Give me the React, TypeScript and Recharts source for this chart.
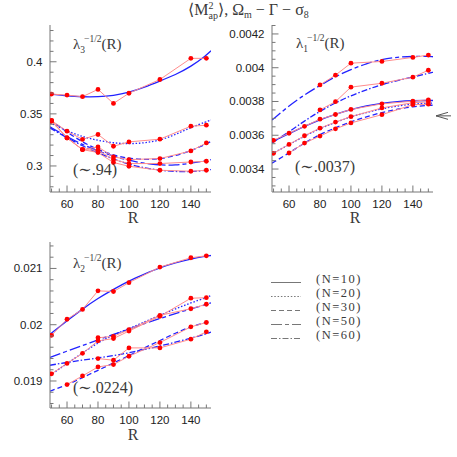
import React from 'react';
import { LineChart, Line, XAxis, YAxis, ReferenceDot } from 'recharts';

// ---------- shared ----------
const R_POINTS = [50, 60, 70, 80, 90, 100, 120, 140, 150];
const R_FIT = [49, 60, 70, 80, 90, 100, 110, 120, 130, 140, 150, 153];
const X_DOMAIN: [number, number] = [49, 153];
const X_LABELED = [60, 80, 100, 120, 140];
const N_LABELS = ['(N=10)', '(N=20)', '(N=30)', '(N=50)', '(N=60)'];
const DASHES = ['', '1.5 1.8', '5 3', '11 3 4 3', '6 2 1.5 2'];

// ---------- panel 1 : lambda_3^{-1/2}(R) ----------
const P1_N10 = [0.369, 0.368, 0.3665, 0.3735, 0.36, 0.3698, 0.383, 0.4033, 0.4033];
const P1_N20 = [0.3435, 0.3334, 0.3255, 0.3302, 0.3189, 0.3231, 0.3257, 0.3382, 0.3391];
const P1_N30 = [0.3435, 0.3269, 0.3157, 0.3183, 0.3087, 0.3061, 0.3071, 0.3144, 0.3221];
const P1_N50 = [0.3435, 0.3269, 0.3157, 0.3151, 0.3061, 0.3023, 0.3023, 0.3038, 0.3045];
const P1_N60 = [0.3428, 0.3269, 0.3157, 0.3129, 0.3033, 0.2997, 0.2959, 0.2949, 0.2959];
const F1_N10 = [0.369, 0.3672, 0.3663, 0.3663, 0.3675, 0.3705, 0.3755, 0.3815, 0.3875, 0.3953, 0.4062, 0.4105];
const F1_N20 = [0.3415, 0.3335, 0.328, 0.3245, 0.322, 0.3212, 0.322, 0.3245, 0.33, 0.337, 0.3425, 0.344];
const F1_N30 = [0.3445, 0.3325, 0.3228, 0.3155, 0.3103, 0.3072, 0.306, 0.3068, 0.3097, 0.3145, 0.3212, 0.3235];
const F1_N50 = [0.3375, 0.328, 0.3205, 0.3143, 0.3093, 0.3053, 0.3025, 0.3008, 0.3008, 0.3025, 0.305, 0.306];
const F1_N60 = [0.3365, 0.327, 0.3192, 0.3125, 0.3065, 0.3015, 0.2982, 0.2958, 0.2946, 0.2944, 0.2958, 0.2965];
const Y1_DOMAIN: [number, number] = [0.275, 0.4353];
const Y1_LABELED = [0.3, 0.35, 0.4];

// ---------- panel 2 : lambda_1^{-1/2}(R) ----------
const P2_N10 = [0.00357, 0.003612, 0.003653, 0.003695, 0.003723, 0.003753, 0.003786, 0.003802, 0.00381];
const P2_N20 = [0.003493, 0.003546, 0.003597, 0.003642, 0.003678, 0.00371, 0.003762, 0.003793, 0.003798];
const P2_N30 = [null, 0.003495, 0.003554, 0.003595, 0.003638, 0.003673, 0.003722, 0.003781, 0.003784];
const P2_N50 = [null, null, null, 0.003898, 0.003956, 0.004027, 0.004037, 0.004061, 0.004075];
const P2_N60 = [null, null, null, 0.00375, 0.003799, 0.003885, 0.003908, 0.003944, 0.003985];
const F2_N10 = [0.003562, 0.00361, 0.003653, 0.003693, 0.003725, 0.003753, 0.003775, 0.00379, 0.0038, 0.003805, 0.003806, 0.003806];
const F2_N20 = [0.00349, 0.003545, 0.003595, 0.00364, 0.003677, 0.00371, 0.003735, 0.003757, 0.003774, 0.003785, 0.00379, 0.003791];
const F2_N30 = [0.003435, 0.003495, 0.003555, 0.003605, 0.003645, 0.00368, 0.00371, 0.003735, 0.003755, 0.00377, 0.003777, 0.003778];
const F2_N50 = [0.00369, 0.003775, 0.00384, 0.003895, 0.003948, 0.00399, 0.004025, 0.00405, 0.004063, 0.004067, 0.004067, 0.004065];
const F2_N60 = [0.003555, 0.00362, 0.003685, 0.003743, 0.003792, 0.003835, 0.00387, 0.0039, 0.003925, 0.003945, 0.003967, 0.003973];
const Y2_DOMAIN: [number, number] = [0.003264, 0.004253];
const Y2_LABELED = [0.0034, 0.0036, 0.0038, 0.004, 0.0042];
const ARROW_VALUE = 0.003715;

// ---------- panel 3 : lambda_2^{-1/2}(R) ----------
const P3_N10 = [0.019812, 0.020097, 0.020272, 0.020602, 0.02059, 0.020748, 0.021024, 0.02119, 0.021225];
const P3_N20 = [0.019128, 0.019312, 0.019491, 0.019713, 0.019754, 0.019887, 0.02015, 0.020471, 0.02048];
const P3_N30 = [null, 0.018936, 0.01909, 0.01925, 0.019292, 0.01944, 0.019683, 0.019962, 0.020039];
const P3_N50 = [null, null, null, 0.019768, 0.019794, 0.019911, 0.020167, 0.020284, 0.020364];
const P3_N60 = [null, null, null, 0.019399, 0.019369, 0.019588, 0.019588, 0.019743, 0.019873];
const F3_N10 = [0.01983, 0.02007, 0.02028, 0.02047, 0.02063, 0.02078, 0.0209, 0.021015, 0.0211, 0.02117, 0.02122, 0.02123];
const F3_N20 = [0.0191, 0.01931, 0.0195, 0.01968, 0.01982, 0.01993, 0.02005, 0.02017, 0.02028, 0.02039, 0.02048, 0.02052];
const F3_N30 = [0.01882, 0.01893, 0.01906, 0.01919, 0.01932, 0.01945, 0.01959, 0.01972, 0.01985, 0.01997, 0.02004, 0.02007];
const F3_N50 = [0.01942, 0.01953, 0.01963, 0.01973, 0.01983, 0.01992, 0.02002, 0.02011, 0.0202, 0.02028, 0.02036, 0.02039];
const F3_N60 = [0.01928, 0.01933, 0.01937, 0.01941, 0.01945, 0.0195, 0.01956, 0.01962, 0.01969, 0.01976, 0.01984, 0.01987];
const Y3_DOMAIN: [number, number] = [0.01852, 0.02147];
const Y3_LABELED = [0.019, 0.02, 0.021];

// ---------- styles ----------
const AXIS_COLOR = '#777777';
const BLUE = '#2222ff';
const PINK = '#ff8c8c';
const RED = '#ff0000';
const SANS = '"Liberation Sans", Arial, sans-serif';
const SERIF = '"Liberation Serif", "DejaVu Serif", serif';
const TEXT = '#3a3a3a';

function range(from: number, to: number, step: number, digits: number): number[] {
  const out: number[] = [];
  const n = Math.round((to - from) / step);
  for (let i = 0; i <= n; i++) out.push(Number((from + i * step).toFixed(digits)));
  return out;
}

const X_TICKS = range(50, 150, 5, 0);

function toData(xs: number[], vs: (number | null)[]) {
  return xs.map((R, i) => ({ R, v: vs[i] }));
}

function isMajor(v: number, majors: number[]) {
  return majors.some((m) => Math.abs(m - v) < 1e-9);
}

function makeTick(side: 'bottom' | 'top' | 'left' | 'right', majors: number[], withLabel: boolean) {
  return (props: any) => {
    const { x, y, payload } = props;
    const v = payload.value as number;
    const major = isMajor(v, majors);
    const len = major ? 6.5 : 3.5;
    let line: React.ReactNode = null;
    if (side === 'bottom') line = <line x1={x} y1={y} x2={x} y2={y - len} />;
    if (side === 'top') line = <line x1={x} y1={y} x2={x} y2={y + len} />;
    if (side === 'left') line = <line x1={x} y1={y} x2={x + len} y2={y} />;
    if (side === 'right') line = <line x1={x} y1={y} x2={x - len} y2={y} />;
    let label: React.ReactNode = null;
    if (withLabel && major) {
      if (side === 'bottom')
        label = (
          <text x={x} y={y + 15.5} textAnchor="middle" fontFamily={SANS} fontSize={11.5} fill="#222" stroke="none">
            {String(v)}
          </text>
        );
      if (side === 'left')
        label = (
          <text x={x - 7.5} y={y + 4} textAnchor="end" fontFamily={SANS} fontSize={11.5} fill="#222" stroke="none">
            {String(v)}
          </text>
        );
    }
    return (
      <g stroke={AXIS_COLOR} strokeWidth={1}>
        {line}
        {label}
      </g>
    );
  };
}

type PanelProps = {
  left: number;
  top: number;
  plotH: number;
  yDomain: [number, number];
  yTicks: number[];
  yMajors: number[];
  pts: (number | null)[][];
  fits: number[][];
  arrowY?: number;
};

function Panel({ left, top, plotH, yDomain, yTicks, yMajors, pts, fits, arrowY }: PanelProps) {
  const W = 235;
  const topM = 25;
  const bottomH = 30;
  const H = topM + plotH + bottomH;
  return (
    <div style={{ position: 'absolute', left, top, width: W, height: H }}>
      <LineChart width={W} height={H} margin={{ top: topM, right: 24, bottom: 0, left: 0 }}>
        <XAxis
          dataKey="R"
          type="number"
          domain={X_DOMAIN}
          allowDataOverflow
          ticks={X_TICKS}
          interval={0}
          tickSize={0}
          tickMargin={0}
          height={bottomH}
          stroke={AXIS_COLOR}
          tick={makeTick('bottom', X_LABELED, true)}
        />
        <XAxis
          xAxisId="top"
          orientation="top"
          dataKey="R"
          type="number"
          domain={X_DOMAIN}
          allowDataOverflow
          ticks={X_TICKS}
          interval={0}
          tickSize={0}
          tickMargin={0}
          height={0}
          stroke={AXIS_COLOR}
          tick={makeTick('top', X_LABELED, false)}
        />
        <YAxis
          type="number"
          domain={yDomain}
          allowDataOverflow
          ticks={yTicks}
          interval={0}
          tickSize={0}
          tickMargin={0}
          width={50}
          stroke={AXIS_COLOR}
          tick={makeTick('left', yMajors, true)}
        />
        <YAxis
          yAxisId="right"
          orientation="right"
          type="number"
          domain={yDomain}
          allowDataOverflow
          ticks={yTicks}
          interval={0}
          tickSize={0}
          tickMargin={0}
          width={0}
          stroke={AXIS_COLOR}
          tick={makeTick('right', yMajors, false)}
        />
        {fits.map((f, i) => (
          <Line
            key={'fit' + i}
            data={toData(R_FIT, f)}
            dataKey="v"
            type="basis"
            stroke={BLUE}
            strokeWidth={1.3}
            strokeDasharray={DASHES[i] || undefined}
            dot={false}
            activeDot={false}
            isAnimationActive={false}
          />
        ))}
        {pts.map((p, i) => (
          <Line
            key={'pts' + i}
            data={toData(R_POINTS, p)}
            dataKey="v"
            type="linear"
            stroke={PINK}
            strokeWidth={1}
            connectNulls={false}
            dot={{ r: 2.4, fill: RED, stroke: RED, strokeWidth: 0 }}
            activeDot={false}
            isAnimationActive={false}
          />
        ))}
        {arrowY !== undefined && (
          <ReferenceDot
            x={X_DOMAIN[1]}
            y={arrowY}
            r={0}
            ifOverflow="visible"
            shape={(props: any) => {
              const { cx, cy } = props;
              return (
                <path
                  d={`M${cx + 3},${cy} L${cx + 18},${cy} M${cx + 3},${cy} L${cx + 15},${cy - 3.5} M${cx + 3},${cy} L${cx + 15},${cy + 3.5}`}
                  stroke="#555"
                  strokeWidth={1}
                  fill="none"
                />
              );
            }}
          />
        )}
      </LineChart>
    </div>
  );
}

function Lambda({ x, y, sub }: { x: number; y: number; sub: string }) {
  return (
    <text x={x} y={y} fontFamily={SERIF} fontSize={15} fill={TEXT}>
      λ<tspan fontSize={9.5} dy={4}>{sub}</tspan>
      <tspan fontSize={9.5} dx={-1} dy={-11}>−1/2</tspan>
      <tspan dy={7}>(R)</tspan>
    </text>
  );
}

export default function App() {
  return (
    <div style={{ position: 'absolute', left: 0, top: 0, width: 457, height: 457, background: '#fff' }}>
      <Panel
        left={0}
        top={0}
        plotH={167}
        yDomain={Y1_DOMAIN}
        yTicks={range(0.28, 0.43, 0.01, 4)}
        yMajors={Y1_LABELED}
        pts={[P1_N10, P1_N20, P1_N30, P1_N50, P1_N60]}
        fits={[F1_N10, F1_N20, F1_N30, F1_N50, F1_N60]}
      />
      <Panel
        left={222}
        top={0}
        plotH={167}
        yDomain={Y2_DOMAIN}
        yTicks={range(0.0033, 0.00425, 0.00005, 6)}
        yMajors={Y2_LABELED}
        pts={[P2_N10, P2_N20, P2_N30, P2_N50, P2_N60]}
        fits={[F2_N10, F2_N20, F2_N30, F2_N50, F2_N60]}
        arrowY={ARROW_VALUE}
      />
      <Panel
        left={0}
        top={217}
        plotH={166}
        yDomain={Y3_DOMAIN}
        yTicks={range(0.0186, 0.0214, 0.0002, 5)}
        yMajors={Y3_LABELED}
        pts={[P3_N10, P3_N20, P3_N30, P3_N50, P3_N60]}
        fits={[F3_N10, F3_N20, F3_N30, F3_N50, F3_N60]}
      />
      <svg width={457} height={457} style={{ position: 'absolute', left: 0, top: 0, pointerEvents: 'none' }}>
        <text x={188} y={15} fontFamily={SERIF} fontSize={16} fill={TEXT}>
          ⟨M<tspan fontSize={10} dy={-6}>2</tspan>
          <tspan fontSize={10} dx={-5} dy={10}>ap</tspan>
          <tspan dy={-4}>⟩,  Ω</tspan>
          <tspan fontSize={10} dy={3}>m</tspan>
          <tspan dy={-3}> − Γ − σ</tspan>
          <tspan fontSize={10} dy={3}>8</tspan>
        </text>
        <Lambda x={73} y={49} sub="3" />
        <Lambda x={296} y={48} sub="1" />
        <Lambda x={73} y={268} sub="2" />
        <text x={73} y={175} fontFamily={SERIF} fontSize={16} fill={TEXT}>(∼.94)</text>
        <text x={295} y={172} fontFamily={SERIF} fontSize={16} fill={TEXT}>(∼.0037)</text>
        <text x={73} y={393} fontFamily={SERIF} fontSize={16} fill={TEXT}>(∼.0224)</text>
        <text x={133} y={223} textAnchor="middle" fontFamily={SERIF} fontSize={16} fill={TEXT}>R</text>
        <text x={355} y={223} textAnchor="middle" fontFamily={SERIF} fontSize={16} fill={TEXT}>R</text>
        <text x={133} y={440} textAnchor="middle" fontFamily={SERIF} fontSize={16} fill={TEXT}>R</text>
        {N_LABELS.map((lab, i) => {
          const yb = 282.5 + i * 14;
          return (
            <g key={lab}>
              <line x1={271} y1={yb} x2={301} y2={yb} stroke="#777" strokeWidth={1} strokeDasharray={DASHES[i] || undefined} />
              <text x={316} y={yb} fontFamily={SERIF} fontSize={12.5} letterSpacing={1.5} fill={TEXT}>{lab}</text>
            </g>
          );
        })}
      </svg>
    </div>
  );
}
